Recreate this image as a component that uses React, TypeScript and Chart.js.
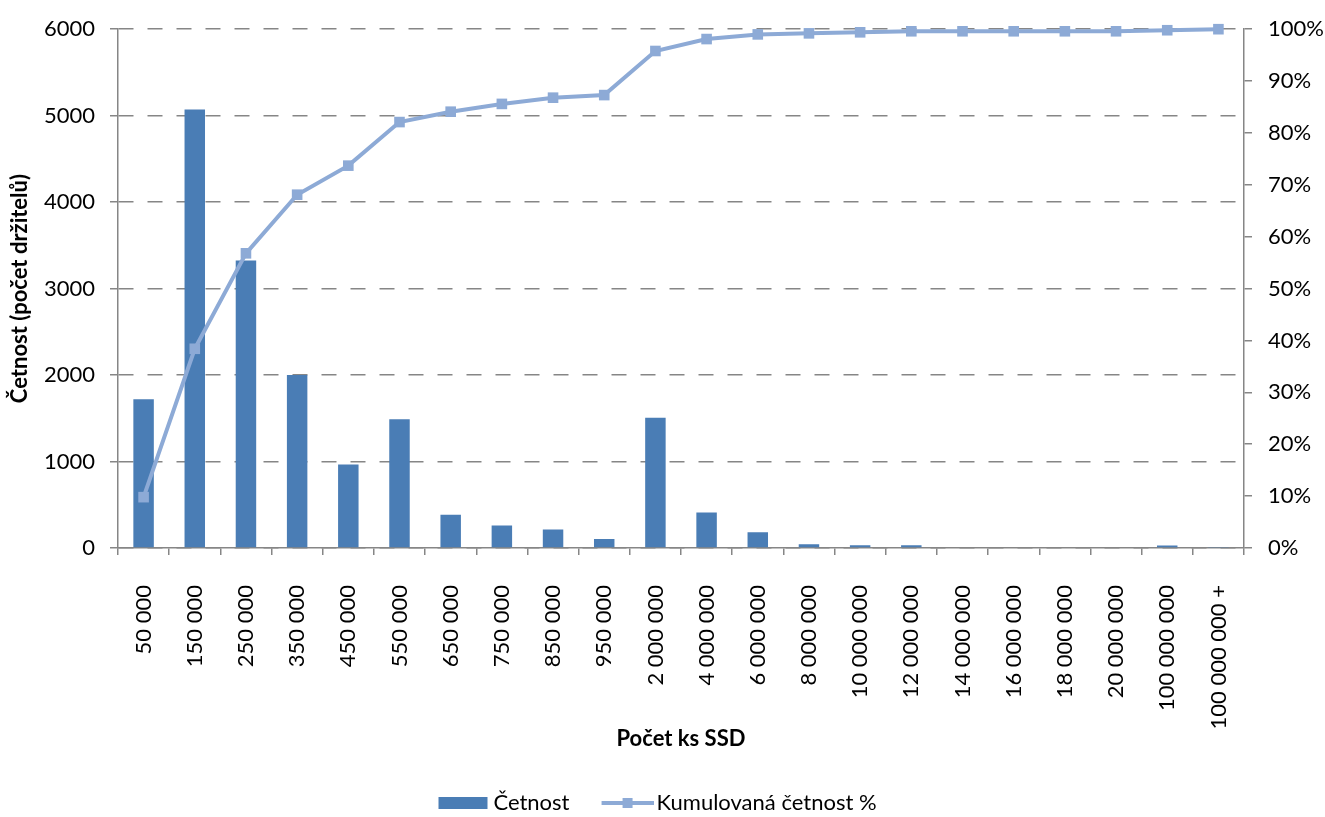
import React, { useEffect, useRef } from 'react';
import { Chart, registerables } from 'chart.js';

Chart.register(...registerables);

const categories = [
  '50 000', '150 000', '250 000', '350 000', '450 000', '550 000', '650 000',
  '750 000', '850 000', '950 000', '2 000 000', '4 000 000', '6 000 000',
  '8 000 000', '10 000 000', '12 000 000', '14 000 000', '16 000 000',
  '18 000 000', '20 000 000', '100 000 000', '100 000 000 +',
];

const counts = [
  1720, 5070, 3325, 2000, 965, 1490, 385, 260, 215, 105, 1505, 411, 181,
  43, 31, 31, 0, 0, 0, 0, 28, 5,
];

const cumulativePct = [
  9.8, 38.4, 56.8, 68.1, 73.7, 82.1, 84.1, 85.6, 86.8, 87.3, 95.8, 98.1, 99.0,
  99.2, 99.4, 99.6, 99.6, 99.6, 99.6, 99.6, 99.8, 100,
];

const leftTickMax = 6000;
const leftTickStep = 1000;
const rightTickMax = 100;
const rightTickStep = 10;

const seriesNames = ['Četnost', 'Kumulovaná četnost %'];
const xTitle = 'Počet ks SSD';
const yTitle = 'Četnost (počet držitelů)';

const BAR_COLOR = '#4A7DB5';
const LINE_COLOR = '#8DAAD6';
const AXIS_COLOR = '#868686';
const FONT = 'Lato';
const FS = 22;

const SW_L = 22;
const SW_S = 52;
const SW_P = 66;

function makeSwatch(kind: 'bar' | 'line'): HTMLCanvasElement {
  const W = 2 * SW_L + 2 * SW_S - SW_P;
  const H = 14;
  const c = document.createElement('canvas');
  c.width = W;
  c.height = H;
  const ctx = c.getContext('2d')!;
  const off = W - SW_S;
  if (kind === 'bar') {
    ctx.fillStyle = BAR_COLOR;
    ctx.fillRect(off, 1, 49, 12);
  } else {
    ctx.strokeStyle = LINE_COLOR;
    ctx.lineWidth = 4;
    ctx.beginPath();
    ctx.moveTo(off, 7);
    ctx.lineTo(off + SW_S, 7);
    ctx.stroke();
    ctx.fillStyle = LINE_COLOR;
    ctx.fillRect(off + SW_S / 2 - 5, 2, 10, 10);
  }
  return c;
}

const legendShift = {
  id: 'legendShift',
  afterLayout(chart: any) {
    if (chart.legend) chart.legend.right -= 32;
  },
};

export default function App() {
  const ref = useRef<HTMLCanvasElement | null>(null);

  useEffect(() => {
    document.body.style.margin = '0';
    if (!ref.current) return;
    Chart.defaults.font.family = FONT;
    Chart.defaults.color = '#000';
    const swatches = [makeSwatch('bar'), makeSwatch('line')];

    const chart = new Chart(ref.current, {
      type: 'bar',
      plugins: [legendShift],
      data: {
        labels: categories,
        datasets: [
          {
            type: 'bar',
            label: seriesNames[0],
            data: counts,
            backgroundColor: BAR_COLOR,
            borderWidth: 0,
            categoryPercentage: 1,
            barPercentage: 0.4,
            yAxisID: 'y',
            order: 2,
          },
          {
            type: 'line',
            label: seriesNames[1],
            data: cumulativePct,
            borderColor: LINE_COLOR,
            backgroundColor: LINE_COLOR,
            borderWidth: 4,
            pointStyle: 'rect',
            pointRadius: 7.5,
            pointBorderWidth: 0,
            pointBackgroundColor: LINE_COLOR,
            tension: 0,
            yAxisID: 'y1',
            order: 1,
            clip: false,
          } as any,
        ],
      },
      options: {
        responsive: false,
        animation: false,
        layout: { padding: { top: 27, bottom: -7, left: 0, right: 0 } },
        plugins: {
          tooltip: { enabled: false },
          legend: {
            position: 'bottom',
            labels: {
              usePointStyle: true,
              pointStyleWidth: SW_P,
              padding: 10,
              color: '#000',
              font: { size: FS, family: FONT },
              generateLabels: () =>
                seriesNames.map((name, i) => ({
                  text: name,
                  pointStyle: swatches[i],
                  fillStyle: 'transparent',
                  strokeStyle: 'transparent',
                  lineWidth: 0,
                  fontColor: '#000',
                  hidden: false,
                  datasetIndex: i,
                })) as any,
            },
          },
        },
        scales: {
          x: {
            type: 'category',
            offset: true,
            grid: {
              display: true,
              offset: true,
              drawOnChartArea: false,
              drawTicks: true,
              tickLength: 7,
              color: AXIS_COLOR,
              lineWidth: 1.5,
            },
            border: { display: true, color: AXIS_COLOR, width: 1.5 },
            ticks: {
              autoSkip: false,
              minRotation: 90,
              maxRotation: 90,
              padding: 30,
              color: '#000',
              font: { size: FS, family: FONT },
            },
            title: {
              display: true,
              text: xTitle,
              color: '#000',
              font: { size: FS, weight: 'bold', family: FONT },
              padding: { top: 0, bottom: 30 },
            },
            afterFit: (s: any) => {
              s.height = 234;
            },
          },
          y: {
            type: 'linear',
            position: 'left',
            min: 0,
            max: leftTickMax,
            ticks: {
              stepSize: leftTickStep,
              padding: 15,
              color: '#000',
              font: { size: FS, family: FONT },
              callback: (v: any) => String(v),
            },
            grid: {
              display: true,
              drawOnChartArea: true,
              drawTicks: true,
              tickLength: 8,
              color: AXIS_COLOR,
              lineWidth: 1.5,
            },
            border: { display: true, color: AXIS_COLOR, width: 1.5, dash: [15, 14] },
            title: {
              display: true,
              text: yTitle,
              color: '#000',
              font: { size: FS, weight: 'bold', family: FONT },
              padding: { top: 7, bottom: 0 },
            },
            afterFit: (s: any) => {
              s.width = 118;
            },
          },
          y1: {
            type: 'linear',
            position: 'right',
            min: 0,
            max: rightTickMax,
            ticks: {
              stepSize: rightTickStep,
              padding: 16,
              color: '#000',
              font: { size: FS, family: FONT },
              callback: (v: any) => `${v}%`,
            },
            grid: {
              display: true,
              drawOnChartArea: false,
              drawTicks: true,
              tickLength: 8,
              color: AXIS_COLOR,
              lineWidth: 1.5,
            },
            border: { display: true, color: AXIS_COLOR, width: 1.5 },
            afterFit: (s: any) => {
              s.width = 81;
            },
          },
        },
      },
    });
    return () => chart.destroy();
  }, []);

  return (
    <div style={{ width: 1325, height: 817, background: '#fff' }}>
      <canvas ref={ref} width={1325} height={817} style={{ display: 'block', width: 1325, height: 817 }} />
    </div>
  );
}
